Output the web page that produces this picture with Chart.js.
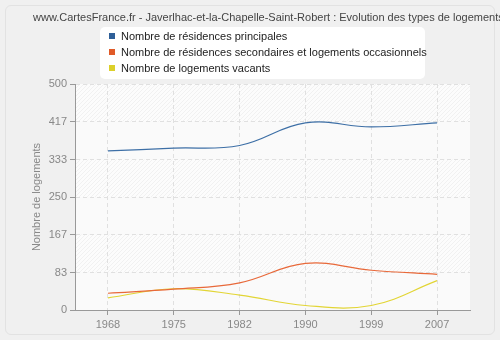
<!DOCTYPE html>
<html>
<head>
<meta charset="utf-8">
<script src="https://cdn.jsdelivr.net/npm/chart.js@4"></script>
<style>
  html, body { margin: 0; padding: 0; background: #f0f0f0; }
  #wrap { position: relative; width: 500px; height: 340px; overflow: hidden; font-family: 'Liberation Sans', Arial, sans-serif; }
  #panel { position: absolute; left: 5px; top: 5px; width: 488px; height: 328px; border: 1px solid #e2e2e2; border-radius: 6px; }
  #title { position: absolute; left: 33px; top: 11px; font-size: 11px; color: #444; white-space: nowrap; }
  #legend { position: absolute; left: 100px; top: 27px; width: 325px; height: 52px; background: #fff; border-radius: 5px; font-size: 11px; color: #222; }
  #legend div { position: absolute; left: 9px; white-space: nowrap; }
  #legend span { display: inline-block; width: 6px; height: 6px; margin-right: 6px; vertical-align: 1px; }
  canvas { position: absolute; left: 0; top: 0; }
</style>
</head>
<body>
<div id="wrap">
  <div id="panel"></div>
  <canvas id="lineChart" width="500" height="340"></canvas>
  <div id="title"></div>
  <div id="legend"></div>
</div>
<script>
const years = ['1968', '1975', '1982', '1990', '1999', '2007'];
const principales = [352, 358, 364, 414, 405, 414];
const secondaires = [37, 46, 60, 103, 88, 79];
const vacants = [27, 47, 33, 10, 10, 65];
const yTicks = [0, 83, 167, 250, 333, 417, 500];

const seriesNames = [
    'Nombre de résidences principales',
    'Nombre de résidences secondaires et logements occasionnels',
    'Nombre de logements vacants'
];
const lineColors = ['#3d6fa6', '#e8693a', '#e2d535'];
const boxColors = ['#2f5f98', '#e05a28', '#dcd02a'];

document.getElementById('title').innerText =
    'www.CartesFrance.fr - Javerlhac-et-la-Chapelle-Saint-Robert : Evolution des types de logements';

const legend = document.getElementById('legend');
seriesNames.forEach((name, i) => {
    const row = document.createElement('div');
    row.style.top = (3 + i * 16) + 'px';
    row.innerHTML = `<span style="background:${boxColors[i]}"></span>${name}`;
    legend.appendChild(row);
});

// hatch pattern for the plot background
function makeHatch() {
    const p = document.createElement('canvas');
    p.width = 4; p.height = 4;
    const c = p.getContext('2d');
    c.fillStyle = '#fcfcfc';
    c.fillRect(0, 0, 4, 4);
    c.strokeStyle = '#eeeeee';
    c.lineWidth = 0.8;
    c.beginPath();
    c.moveTo(0, 4); c.lineTo(4, 0);
    c.moveTo(-1, 1); c.lineTo(1, -1);
    c.moveTo(3, 5); c.lineTo(5, 3);
    c.stroke();
    return p;
}

const bandsPlugin = {
    id: 'bands',
    beforeDraw(chart) {
        const { ctx, chartArea: a, scales: { y } } = chart;
        const pattern = ctx.createPattern(makeHatch(), 'repeat');
        ctx.save();
        ctx.fillStyle = '#fafafa';
        ctx.fillRect(a.left, a.top, a.right - a.left, a.bottom - a.top);
        for (let i = yTicks.length - 1; i > 0; i -= 2) {
            const top = y.getPixelForValue(yTicks[i]);
            const bot = y.getPixelForValue(yTicks[i - 1]);
            ctx.fillStyle = pattern;
            ctx.fillRect(a.left, top, a.right - a.left, bot - top);
        }
        ctx.restore();
    }
};

const ctx = document.getElementById('lineChart').getContext('2d');
new Chart(ctx, {
    type: 'line',
    data: {
        labels: years,
        datasets: [principales, secondaires, vacants].map((d, i) => ({
            label: seriesNames[i],
            data: d,
            borderColor: lineColors[i],
            borderWidth: 1.2,
            tension: 0.4,
            pointRadius: 0,
            fill: false
        }))
    },
    options: {
        responsive: false,
        animation: false,
        layout: { padding: { left: 10, right: 30, top: 84, bottom: 0 } },
        plugins: {
            legend: { display: false },
            tooltip: { enabled: false }
        },
        scales: {
            x: {
                offset: true,
                afterFit: s => { s.height = 30; },
                grid: { offset: false, color: '#e0e0e0', tickLength: 5, tickColor: '#999', tickBorderDash: [] },
                border: { color: '#999', dash: [4, 3] },
                ticks: { color: '#888', font: { family: 'Liberation Sans', size: 11 }, padding: 3 }
            },
            y: {
                min: 0,
                max: 500,
                afterFit: s => { s.width = 65; },
                afterBuildTicks: s => { s.ticks = yTicks.map(v => ({ value: v })); },
                grid: { color: '#e0e0e0', tickLength: 5, tickColor: '#999', tickBorderDash: [] },
                border: { color: '#999', dash: [4, 3] },
                ticks: { color: '#888', font: { family: 'Liberation Sans', size: 11 }, padding: 3 },
                title: { display: true, text: 'Nombre de logements', color: '#888', font: { family: 'Liberation Sans', size: 11 }, padding: { top: 20, bottom: 0 } }
            }
        }
    },
    plugins: [bandsPlugin]
});
</script>
</body>
</html>
